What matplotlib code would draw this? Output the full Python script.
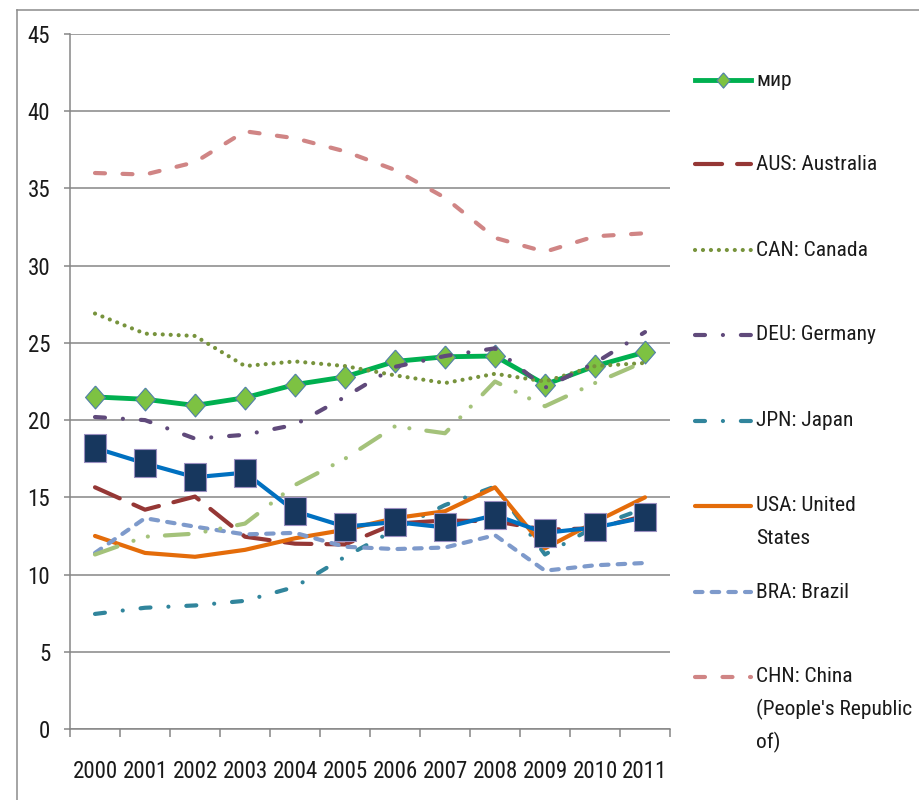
import matplotlib
matplotlib.use('Agg')
import matplotlib.pyplot as plt
from matplotlib import font_manager as fm
from matplotlib.font_manager import FontProperties
from matplotlib.lines import Line2D
from matplotlib.textpath import TextPath

# данные
years = [str(y) for y in range(2000, 2012)]
mir = [21.5, 21.35, 20.95, 21.45, 22.3, 22.8, 23.8, 24.1, 24.15, 22.3, 23.5, 24.4]
aus = [15.65, 14.2, 15.05, 12.45, 12.0, 11.95, 13.3, 13.5, 13.45, 12.9, 13.0, 13.8]
can = [26.9, 25.6, 25.45, 23.5, 23.8, 23.5, 22.9, 22.4, 23.0, 22.5, 23.5, 23.7]
deu = [20.2, 20.0, 18.8, 19.05, 19.7, 21.5, 23.45, 24.15, 24.65, 22.1, 23.7, 25.7]
jpn = [7.45, 7.85, 8.0, 8.3, 9.2, 11.15, 12.9, 14.5, 15.7, 11.3, 13.1, 14.3]
usa = [12.5, 11.4, 11.15, 11.6, 12.35, 12.9, 13.65, 14.1, 15.65, 11.7, 13.4, 15.0]
bra = [11.4, 13.65, 13.1, 12.6, 12.7, 11.8, 11.65, 11.75, 12.55, 10.25, 10.6, 10.75]
chn = [36.0, 35.9, 36.7, 38.7, 38.25, 37.4, 36.2, 34.4, 31.8, 30.9, 31.9, 32.1]
# две серии, которых нет в легенде
extra_green = [11.3, 12.45, 12.65, 13.3, 15.8, 17.5, 19.6, 19.15, 22.5, 20.9, 22.4, 23.8]
extra_blue = [18.2, 17.2, 16.3, 16.6, 14.1, 13.1, 13.4, 13.05, 13.85, 12.7, 13.05, 13.7]

W, H = 919, 800
GRID = '#868686'
TXT = '#1a1a1a'


def fx(px):
    return px / W


def fy(py):
    return 1 - py / H


# ищем узкий шрифт (в оригинале Calibri)
def pick_font():
    files = [f for f in fm.fontManager.ttflist
             if f.style == 'normal' and f.weight in (400, 'normal', 'regular')]
    for fam in ['Liberation Sans Narrow', 'Roboto Condensed', 'Open Sans Condensed']:
        for f in files:
            if f.name == fam:
                return f.fname
    for fam in ['Noto Sans', 'DejaVu Sans', 'Open Sans', 'Roboto', 'Inter']:
        for key in ['-Condensed.', 'SansCondensed.', 'Condensed-Regular', 'SemiCondensed']:
            for f in files:
                if f.name == fam and key in f.fname:
                    return f.fname
    return None


path = pick_font()
fp = FontProperties(fname=path) if path else FontProperties(family='Liberation Sans')


def fit_size(text, target_px, cap):
    w = TextPath((0, 0), text, size=1, prop=fp).get_extents().width
    return min(cap, target_px * 72 / 100 / w)


xsize = fit_size('2000', 43, 17.5)
ysize = fit_size('45', 21, 16.5)
lsize = min(fit_size('AUS: Australia', 121, 17), fit_size("(People's Republic", 154, 17))

DIAMOND = [(0, 1), (0.87, 0), (0, -1), (-0.87, 0), (0, 1)]
TALL_SQ = [(-0.8, -1), (0.8, -1), (0.8, 1), (-0.8, 1), (-0.8, -1)]

styles = {
    'mir': dict(color='#00B050', lw=3.5, marker=DIAMOND, ms=16.5,
                mfc='#7DC242', mec='#4F7FA8', mew=0.8),
    'aus': dict(color='#953735', lw=3, dashes=(6.5, 3.6), dash_capstyle='round'),
    'can': dict(color='#77933C', lw=3, dashes=(0.01, 1.9), dash_capstyle='round'),
    'deu': dict(color='#604A7B', lw=3, dashes=(2.4, 4.3, 0.01, 4.3), dash_capstyle='round'),
    'jpn': dict(color='#31859C', lw=3, dashes=(2.4, 4.3, 0.01, 4.3), dash_capstyle='round'),
    'usa': dict(color='#E46C0A', lw=3, solid_capstyle='round'),
    'bra': dict(color='#7E9ACB', lw=3, dashes=(1.8, 2.2), dash_capstyle='round'),
    'chn': dict(color='#D08585', lw=3, dashes=(2.4, 4.2), dash_capstyle='round'),
}

fig = plt.figure(figsize=(W / 100, H / 100), dpi=100)
ax = fig.add_axes([fx(70), fy(729), fx(670) - fx(70), fy(34) - fy(729)])

x = list(range(len(years)))
ax.plot(x, mir, **styles['mir'], zorder=3)
ax.plot(x, aus, **styles['aus'], zorder=3)
ax.plot(x, can, **styles['can'], zorder=3)
ax.plot(x, deu, **styles['deu'], zorder=3)
ax.plot(x, jpn, **styles['jpn'], zorder=3)
ax.plot(x, usa, **styles['usa'], zorder=3)
ax.plot(x, bra, **styles['bra'], zorder=3)
ax.plot(x, chn, **styles['chn'], zorder=3)
ax.plot(x, extra_green, color='#A4C27A', lw=3, dashes=(5.7, 4.1, 0.01, 3.6, 0.01, 4.1),
        dash_capstyle='round', zorder=3)
ax.plot(x, extra_blue, color='#0070C0', lw=3, marker=TALL_SQ, ms=19.5,
        mfc='#17375E', mec='#9A8FC0', mew=0.8, zorder=4)

ax.set_xlim(-0.5, 11.5)
ax.set_ylim(0, 45)
ax.set_yticks(range(0, 46, 5))
ax.yaxis.grid(True, color=GRID, lw=1.1)
ax.set_axisbelow(True)
ax.set_xticks(x)
ax.set_xticklabels(years)
ax.set_xticks([i - 0.5 for i in range(13)], minor=True)
ax.tick_params(axis='x', which='major', length=0, pad=22, colors=TXT)
ax.tick_params(axis='x', which='minor', length=6, width=1.1, color=GRID, direction='out')
ax.tick_params(axis='y', length=4.3, width=1.1, color=GRID, pad=10, labelcolor=TXT)
for lab in ax.get_xticklabels():
    lab.set_fontproperties(fp)
    lab.set_fontsize(xsize)
for lab in ax.get_yticklabels():
    lab.set_fontproperties(fp)
    lab.set_fontsize(ysize)
for s in ['top', 'right']:
    ax.spines[s].set_visible(False)
for s in ['left', 'bottom']:
    ax.spines[s].set_color(GRID)
    ax.spines[s].set_linewidth(1.1)

# легенда вручную
legend = [
    (80, ['мир'], 'mir'),
    (164, ['AUS: Australia'], 'aus'),
    (250, ['CAN: Canada'], 'can'),
    (335, ['DEU: Germany'], 'deu'),
    (421, ['JPN: Japan'], 'jpn'),
    (506, ['USA: United', 'States'], 'usa'),
    (592, ['BRA: Brazil'], 'bra'),
    (677, ['CHN: China', "(People's Republic", 'of)'], 'chn'),
]
for ypx, lines, key in legend:
    st = dict(styles[key])
    if key == 'mir':
        st['ms'] = 11
        st['markevery'] = [1]
        fig.add_artist(Line2D([fx(695), fx(723), fx(751)], [fy(ypx)] * 3, **st))
    else:
        fig.add_artist(Line2D([fx(695), fx(751)], [fy(ypx)] * 2, **st))
    for i, t in enumerate(lines):
        fig.text(fx(756), fy(ypx + i * 32.5), t, ha='left', va='center',
                 fontproperties=fp, fontsize=lsize, color=TXT)

# рамка
fig.add_artist(Line2D([fx(16.5), fx(16.5)], [0, fy(9.5)], color='#8c8c8c', lw=1.1))
fig.add_artist(Line2D([fx(16.5), 1], [fy(9.5), fy(9.5)], color='#8c8c8c', lw=1.1))

fig.savefig('out.png', dpi=100)
